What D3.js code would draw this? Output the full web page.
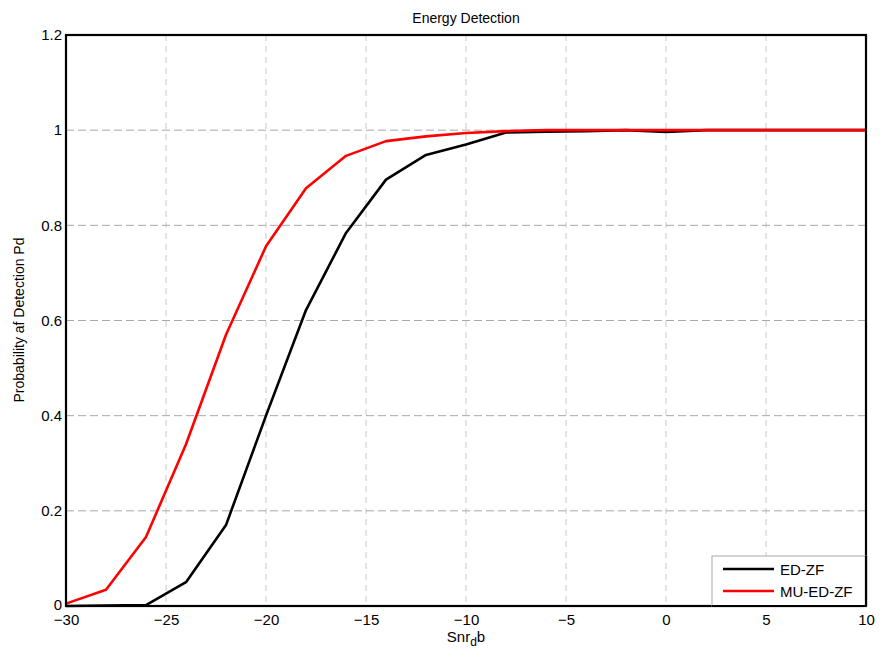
<!DOCTYPE html>
<html><head><meta charset="utf-8">
<script src="https://cdn.jsdelivr.net/npm/d3@7"></script>
<style>body{margin:0;background:#fff}svg{display:block;font-family:"Liberation Sans",Arial,sans-serif}</style>
</head><body>
<svg id="c" width="884" height="650"></svg>
<script>
const snr = [-30,-28,-26,-24,-22,-20,-18,-16,-14,-12,-10,-8,-6,-4,-2,0,2,4,6,8,10];
const edZF = [0,0.001,0.002,0.05,0.17,0.40,0.622,0.784,0.896,0.948,0.970,0.995,0.997,0.998,1.0,0.996,1.0,1.0,1.0,1.0,1.0];
const muEdZF = [0.005,0.034,0.145,0.34,0.57,0.756,0.878,0.946,0.977,0.987,0.994,0.998,1.0,1.0,1.0,1.0,1.0,1.0,1.0,1.0,1.0];
const xTicks = [-30,-25,-20,-15,-10,-5,0,5,10];
const yTicks = [0,0.2,0.4,0.6,0.8,1,1.2];
const seriesNames = ["ED-ZF","MU-ED-ZF"];
const colors = ["#000000","#ff0000"];

const svg = d3.select("#c");
const L=66,R=866,T=35,B=606;
const x = d3.scaleLinear().domain([-30,10]).range([L,R]);
const y = d3.scaleLinear().domain([0,1.2]).range([B,T]);

// grid
svg.append("g").selectAll("line").data(xTicks.filter(d=>d>-30&&d<10)).join("line")
  .attr("x1",d=>x(d)).attr("x2",d=>x(d)).attr("y1",T).attr("y2",B)
  .attr("stroke","#c8c8c8").attr("stroke-width",1).attr("stroke-dasharray","6,5");
svg.append("g").selectAll("line").data(yTicks.filter(d=>d>0&&d<1.2)).join("line")
  .attr("x1",L).attr("x2",R).attr("y1",d=>y(d)).attr("y2",d=>y(d))
  .attr("stroke","#a8a8a8").attr("stroke-width",1).attr("stroke-dasharray","8,4");

// axes ticks labels
const xa = svg.append("g").attr("transform",`translate(0,${B})`)
  .call(d3.axisBottom(x).tickValues(xTicks).tickSize(0).tickPadding(8).tickFormat(d3.format("d")));
xa.select(".domain").remove();
xa.selectAll("text").attr("font-size",15).attr("fill","#000").attr("font-family","Liberation Sans, Arial, sans-serif");
const ya = svg.append("g").attr("transform",`translate(${L},0)`)
  .call(d3.axisLeft(y).tickValues(yTicks).tickSize(0).tickPadding(4).tickFormat(d=>d3.format("~g")(d)));
ya.select(".domain").remove();
ya.selectAll("text").attr("font-size",15).attr("fill","#000").attr("font-family","Liberation Sans, Arial, sans-serif")
  .attr("dy",d=>d===0?"0.2em":"0.32em");

// lines
const line = d3.line().x((d,i)=>x(snr[i])).y(d=>y(d));
[edZF,muEdZF].forEach((s,k)=>{
  svg.append("path").datum(s).attr("d",line).attr("fill","none")
    .attr("stroke",colors[k]).attr("stroke-width",2.6).attr("stroke-linejoin","round");
});

// frame
svg.append("rect").attr("x",L).attr("y",T).attr("width",R-L).attr("height",B-T)
  .attr("fill","none").attr("stroke","#000").attr("stroke-width",2.2);

// legend
const lg = svg.append("g");
lg.append("rect").attr("x",712).attr("y",556).attr("width",R-712).attr("height",B-556)
  .attr("fill","#fff").attr("stroke","#aaa").attr("stroke-width",1);
seriesNames.forEach((n,k)=>{
  const yy = 569 + k*22;
  lg.append("line").attr("x1",723).attr("x2",774).attr("y1",yy).attr("y2",yy)
    .attr("stroke",colors[k]).attr("stroke-width",2.6);
  lg.append("text").attr("x",780).attr("y",yy+5.5).attr("font-size",15).attr("fill","#000").text(n);
});
svg.append("line").attr("x1",712).attr("x2",R).attr("y1",B).attr("y2",B).attr("stroke","#000").attr("stroke-width",2.2);
svg.append("line").attr("x1",R).attr("x2",R).attr("y1",556).attr("y2",B).attr("stroke","#000").attr("stroke-width",2.2);

// title & labels
svg.append("text").attr("x",466).attr("y",23).attr("text-anchor","middle").attr("font-size",14).text("Energy Detection");
const xl = svg.append("text").attr("x",466).attr("y",642).attr("text-anchor","middle").attr("font-size",15);
xl.append("tspan").text("Snr");
xl.append("tspan").attr("dy",4).attr("font-size",12).text("d");
xl.append("tspan").attr("dy",-4).text("b");
svg.append("text").attr("transform","translate(24,320) rotate(-90)").attr("text-anchor","middle")
  .attr("font-size",14).text("Probability af Detection Pd");
</script>
</body></html>
